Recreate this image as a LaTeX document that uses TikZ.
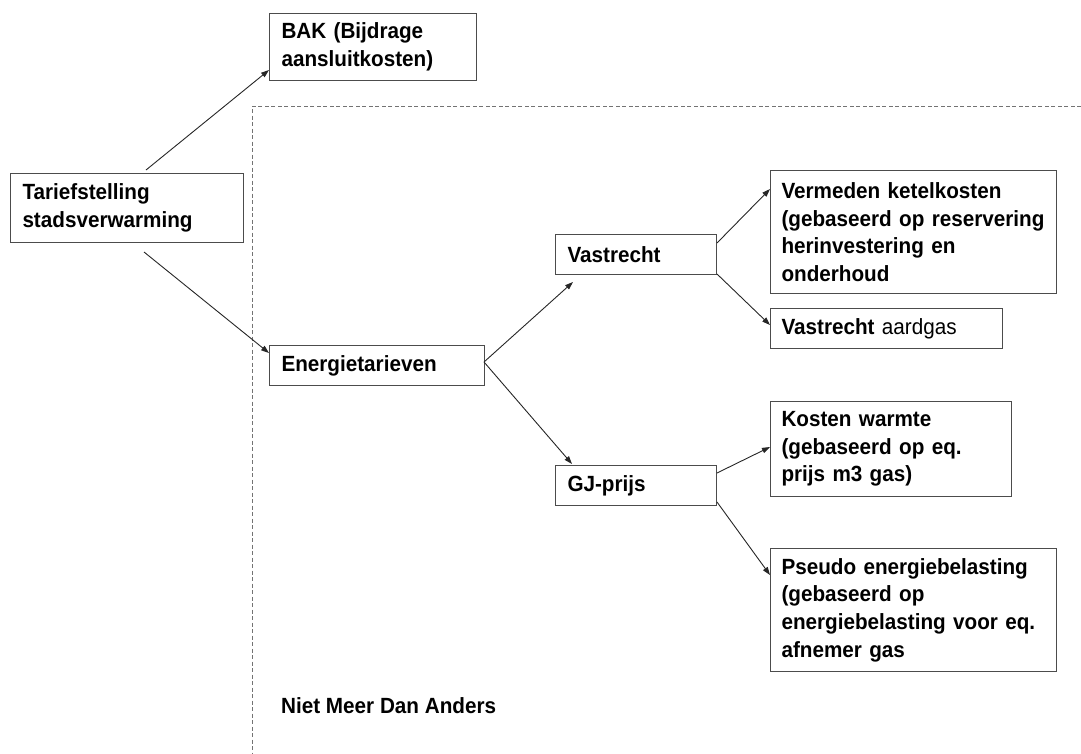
\documentclass[tikz,border=0pt]{standalone}
\usepackage{fontspec}
\setmainfont{Liberation Sans}[FakeStretch=0.94]
\usetikzlibrary{arrows.meta,calc}
\begin{document}
\begin{tikzpicture}[x=1pt,y=-1pt,
  box/.style={draw=black!70, line width=1pt, anchor=north west, inner xsep=12pt, inner ysep=0pt,
    align=left, font=\fontsize{22}{27.6}\selectfont\bfseries},
  conn/.style={draw=black!85, line width=0.9pt, -{Triangle[length=8pt,width=5.5pt]}},
  dashline/.style={draw=black!55, line width=0.9pt, dash pattern=on 4pt off 2.5pt}]
\useasboundingbox (0,0) rectangle (1081,753);
% dashed region
\coordinate (dr) at (1081,106);
\coordinate (db) at (252,753);
\draw[dashline] (dr) -| (db);
% boxes
\node[box, minimum width=207pt, minimum height=67pt, text width=183pt] (bak) at (269,13) {BAK (Bijdrage\\aansluitkosten)};
\node[box, minimum width=233pt, minimum height=69pt, text width=209pt] (tar) at (10,173) {Tariefstelling\\stadsverwarming};
\node[box, minimum width=215pt, minimum height=40pt, text width=191pt] (en) at (269,345) {Energietarieven};
\node[box, minimum width=161pt, minimum height=40pt, text width=137pt] (vr) at (555,234) {Vastrecht};
\node[box, minimum width=161pt, minimum height=40pt, text width=137pt] (gj) at (555,465) {GJ-prijs};
\node[box, minimum width=286pt, minimum height=123pt, text width=264pt, inner xsep=11pt] (verm) at (770,170) {Vermeden ketelkosten\\(gebaseerd op reservering\\herinvestering en\\onderhoud};
\node[box, minimum width=232pt, minimum height=40pt, text width=210pt, inner xsep=11pt] (vag) at (770,308) {Vastrecht \mdseries aardgas};
\node[box, minimum width=241pt, minimum height=95pt, text width=219pt, inner xsep=11pt] (kw) at (770,401) {Kosten warmte\\(gebaseerd op eq.\\prijs m3 gas)};
\node[box, minimum width=286pt, minimum height=123pt, text width=264pt, inner xsep=11pt] (ps) at (770,548) {Pseudo energiebelasting\\(gebaseerd op\\energiebelasting voor eq.\\afnemer gas};
\node[anchor=base west, inner sep=0pt, font=\fontsize{22}{27.6}\selectfont\bfseries] (nmda) at (281,713) {Niet Meer Dan Anders};
% connectors
\draw[conn] ($(tar.north west)+(136,-3)$) -- ($(bak.north west)+(0,57)$);
\draw[conn] ($(tar.north west)+(134,79)$) -- ($(en.north west)+(0,8)$);
\draw[conn] ($(en.north west)+(215,17)$) -- ($(vr.north west)+(18,48)$);
\draw[conn] ($(en.north west)+(215,17)$) -- ($(gj.north west)+(17,-1)$);
\draw[conn] ($(vr.north west)+(162,9)$) -- ($(verm.north west)+(0,19)$);
\draw[conn] ($(vr.north west)+(162,40)$) -- ($(vag.north west)+(0,17)$);
\draw[conn] ($(gj.north west)+(162,8)$) -- ($(kw.north west)+(0,46)$);
\draw[conn] ($(gj.north west)+(162,37)$) -- ($(ps.north west)+(0,27)$);
\end{tikzpicture}
\end{document}
